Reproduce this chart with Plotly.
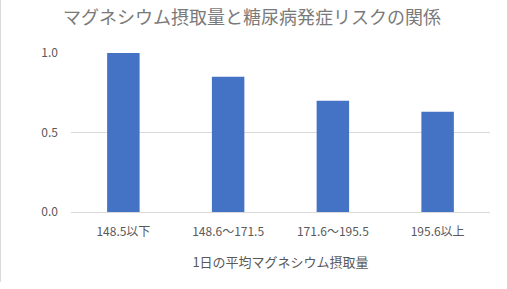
import plotly.graph_objects as go

categories = ["148.5以下", "148.6～171.5", "171.6～195.5", "195.6以上"]
values = [1.0, 0.85, 0.70, 0.63]
y_ticks = [0.0, 0.5, 1.0]
y_tick_labels = ["0.0", "0.5", "1.0"]

title_text = "マグネシウム摂取量と糖尿病発症リスクの関係"
x_title = "1日の平均マグネシウム摂取量"

font_family = "Noto Sans CJK JP"
text_color = "#595959"

fig = go.Figure(
    go.Bar(x=categories, y=values, marker=dict(color="#4472C4", line=dict(width=0)))
)

fig.update_layout(
    width=507,
    height=289,
    margin=dict(l=71, r=17, t=53, b=77),
    paper_bgcolor="white",
    plot_bgcolor="white",
    bargap=0.69,
    showlegend=False,
    font=dict(family=font_family, color=text_color, size=12),
    title=dict(
        text=title_text,
        x=0.497,
        xanchor="center",
        y=1 - 18 / 289,
        yanchor="middle",
        font=dict(size=18, color="#7a7a7a", family=font_family),
    ),
    xaxis=dict(
        showgrid=False,
        showline=True,
        linecolor="#d9d9d9",
        linewidth=1,
        ticks="",
        ticklabelstandoff=9,
        tickfont=dict(size=12, color=text_color),
        title=dict(text=x_title, font=dict(size=13, color=text_color), standoff=19),
    ),
    yaxis=dict(
        range=[0, 1.0],
        tickvals=y_ticks,
        ticktext=y_tick_labels,
        showgrid=True,
        gridcolor="#d9d9d9",
        gridwidth=1,
        zeroline=False,
        showline=False,
        ticks="",
        ticklabelstandoff=12,
        tickfont=dict(size=12, color=text_color),
    ),
    shapes=[
        dict(
            type="line",
            xref="paper",
            yref="paper",
            x0=-71 / 419 + 0.5 / 419,
            x1=-71 / 419 + 0.5 / 419,
            y0=-70 / 159,
            y1=1 + 53 / 159,
            line=dict(color="#d9d9d9", width=1),
        )
    ],
)

fig.write_html("out.html")
